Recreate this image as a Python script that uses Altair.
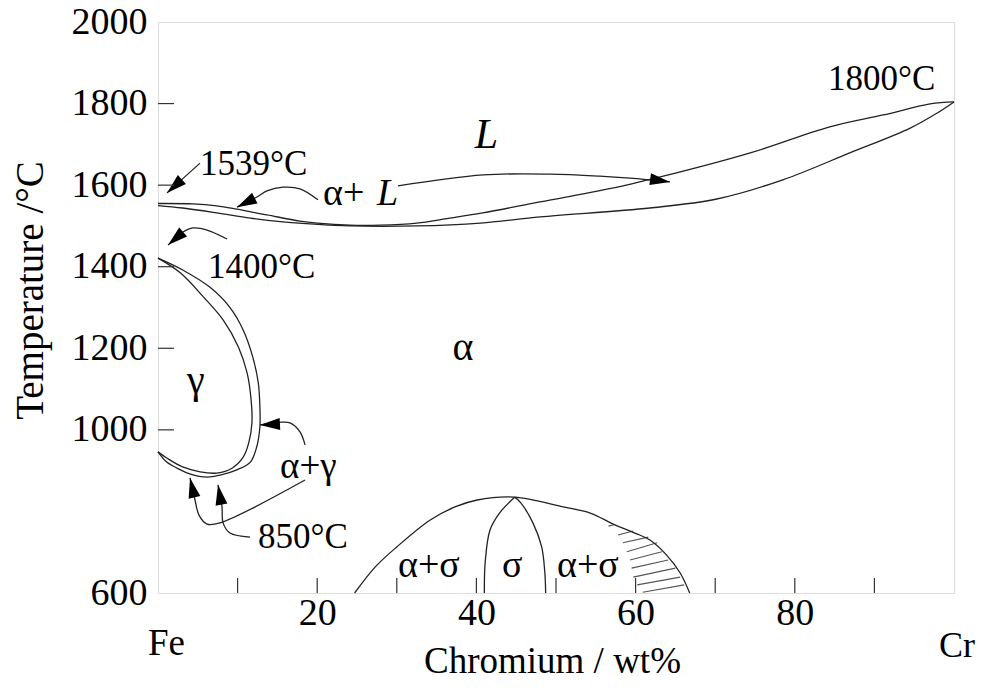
import altair as alt
import pandas as pd

FONT = "Liberation Serif"
INK = "#222222"

# ---------------- axis values ----------------
x_label_values = [20, 40, 60, 80]
x_tick_values = [10, 20, 30, 40, 50, 60, 70, 80, 90]
y_label_values = [600, 1000, 1200, 1400, 1600, 1800, 2000]
y_tick_values = [1000, 1200, 1400, 1600, 1800]

# ---------------- phase boundaries (wt% Cr, deg C) ----------------
liquidus_cr = [0, 4.4, 7.4, 9.9, 13.7, 17.8, 20.0, 24.1, 27.9, 32.5, 36.3, 40.8, 48.0, 57.7, 60.9, 63.1, 74.4, 84.4, 91.1, 97.0, 100]
liquidus_t = [1555, 1554, 1549, 1541, 1527, 1512, 1507, 1502, 1502, 1507, 1518, 1532, 1559, 1595, 1610, 1620, 1679, 1743, 1772, 1799, 1804]

solidus_cr = [0, 3.1, 7.4, 11.6, 15.7, 19.1, 24.1, 32.5, 40.5, 48.0, 61.8, 70.2, 78.5, 86.9, 94.5, 97.9, 100]
solidus_t = [1550, 1544, 1532, 1519, 1510, 1505, 1500, 1500, 1507, 1522, 1544, 1566, 1613, 1679, 1740, 1777, 1804]

gamma_outer_cr = [0, 3.1, 6.5, 9.0, 10.7, 11.9, 12.6, 12.8, 12.8, 12.4, 11.6, 9.9, 7.8, 6.2, 4.0, 2.4, 1.1, 0]
gamma_outer_t = [1421, 1392, 1350, 1301, 1245, 1179, 1115, 1056, 1007, 958, 921, 902, 889, 884, 892, 906, 921, 946]

gamma_inner_cr = [0, 2.8, 5.7, 8.2, 10.1, 11.2, 11.7, 11.8, 11.4, 10.7, 9.3, 7.4, 5.3, 3.1, 1.1, 0]
gamma_inner_t = [1421, 1385, 1326, 1269, 1203, 1139, 1073, 1017, 968, 933, 906, 894, 897, 909, 931, 946]

sigma_dome_cr = [24.7, 27.3, 30.0, 34.2, 37.3, 40.1, 44.8, 50.9, 54.3, 57.2, 59.9, 61.8, 63.9, 65.6, 66.8]
sigma_dome_t = [600, 664, 713, 779, 811, 828, 835, 811, 796, 769, 747, 730, 693, 649, 600]

sigma_left_cr = [44.8, 42.9, 41.7, 41.1, 41.0]
sigma_left_t = [835, 796, 754, 674, 600]

sigma_right_cr = [44.8, 45.5, 47.1, 48.2, 48.6, 48.7]
sigma_right_t = [835, 823, 772, 713, 649, 600]

# ---------------- annotation arrows (stems end at the tip) ----------------
arrow_1539_cr = [5.28, 1.13]
arrow_1539_t = [1654, 1581]
arrow_1400_cr = [8.67, 6.16, 4.40, 3.14, 1.26]
arrow_1400_t = [1468, 1490, 1495, 1485, 1453]
arrow_al_left_cr = [20.1, 17.84, 15.70, 13.69, 12.44, 9.92]
arrow_al_left_t = [1564, 1591, 1595, 1586, 1571, 1546]
arrow_al_right_cr = [30.15, 40.83, 49.25, 55.53, 59.30, 64.32]
arrow_al_right_t = [1598, 1625, 1627, 1622, 1617, 1608]
arrow_ag_cr = [18.47, 17.84, 16.58, 15.58, 12.81]
arrow_ag_t = [963, 995, 1017, 1019, 1012]
arrow_850a_cr = [18.47, 7.79, 6.16, 5.15, 4.65, 4.02]
arrow_850a_t = [877, 772, 769, 791, 828, 882]
arrow_850b_cr = [11.56, 9.05, 8.17, 8.04, 7.54]
arrow_850b_t = [737, 747, 772, 811, 865]

# arrow head direction (degrees clockwise from "up")
head_angle = {"a1539": 228, "a1400": 229, "al_left": 243, "al_right": 98,
              "ag": 267, "a850a": 347, "a850b": 350}

# ---------------- hatching in the alpha+sigma field ----------------
hatch_cr1 = [56.6, 57.8, 58.4, 58.9, 59.3, 59.5, 59.7, 60.2, 60.9]
hatch_t1 = [764, 742, 723, 701, 681, 661, 639, 620, 602]
hatch_cr2 = [57.4, 59.7, 61.6, 62.7, 63.3, 64.1, 65.0, 65.6, 66.1]
hatch_t2 = [768, 752, 737, 723, 701, 681, 661, 639, 620]

# ---------------- labels ----------------
label_text = ["1539°C", "1400°C", "α+", "α", "γ", "α+γ", "850°C", "α+σ", "σ", "α+σ", "1800°C", "Fe", "Cr"]
label_cr = [5.28, 6.28, 20.73, 37.0, 3.64, 15.33, 12.56, 30.15, 43.22, 50.13, 84.17, -1.26, 98.1]
label_t = [1625, 1372, 1551, 1171, 1090, 882, 710, 639, 639, 639, 1833, 448, 443]
label_size = [35, 35, 38, 40, 40, 37, 35, 38, 38, 38, 35, 37, 36]

italic_text = ["L", "L"]
italic_cr = [27.51, 39.8]
italic_t = [1551, 1691]
italic_size = [38, 42]

# ---------------- tables ----------------
curves = {
    "liquidus": (liquidus_cr, liquidus_t),
    "solidus": (solidus_cr, solidus_t),
    "gamma_outer": (gamma_outer_cr, gamma_outer_t),
    "gamma_inner": (gamma_inner_cr, gamma_inner_t),
    "sigma_dome": (sigma_dome_cr, sigma_dome_t),
    "sigma_left": (sigma_left_cr, sigma_left_t),
    "sigma_right": (sigma_right_cr, sigma_right_t),
}
arrows = {
    "a1539": (arrow_1539_cr, arrow_1539_t),
    "a1400": (arrow_1400_cr, arrow_1400_t),
    "al_left": (arrow_al_left_cr, arrow_al_left_t),
    "al_right": (arrow_al_right_cr, arrow_al_right_t),
    "ag": (arrow_ag_cr, arrow_ag_t),
    "a850a": (arrow_850a_cr, arrow_850a_t),
    "a850b": (arrow_850b_cr, arrow_850b_t),
}

rows = []
for name, (xs, ts) in list(curves.items()) + list(arrows.items()):
    for i, (x, t) in enumerate(zip(xs, ts)):
        rows.append({"curve": name, "i": i, "cr": x, "t": t})
lines_df = pd.DataFrame(rows)

heads_df = pd.DataFrame([
    {"cr": xs[-1], "t": ts[-1], "angle": head_angle[name]}
    for name, (xs, ts) in arrows.items()
])

hatch_df = pd.DataFrame({"cr": hatch_cr1, "t": hatch_t1, "cr2": hatch_cr2, "t2": hatch_t2})
labels_df = pd.DataFrame({"cr": label_cr, "t": label_t, "text": label_text, "size": label_size})
italic_df = pd.DataFrame({"cr": italic_cr, "t": italic_t, "text": italic_text, "size": italic_size})
xticks_df = pd.DataFrame({"cr": x_tick_values})
yticks_df = pd.DataFrame({"t": y_tick_values})

# ---------------- scales / axes ----------------
W, H = 796, 571
xscale = alt.Scale(domain=[0, 100], nice=False, zero=False)
yscale = alt.Scale(domain=[600, 2000], nice=False, zero=False)

x_axis = alt.Axis(values=x_label_values, format="d", ticks=False, domain=False, grid=False,
                  labelFont=FONT, labelFontSize=38, labelColor="black",
                  labelBaseline="alphabetic", labelPadding=31,
                  title="Chromium / wt%", titleFont=FONT, titleFontSize=37,
                  titleFontWeight="normal", titleColor="black",
                  titleX=394, titleY=79, titleBaseline="alphabetic", titleAlign="center")
y_axis = alt.Axis(values=y_label_values, format="d", ticks=False, domain=False, grid=False,
                  labelFont=FONT, labelFontSize=38, labelColor="black",
                  labelPadding=11, labelBaseline="middle",
                  title="Temperature /°C", titleFont=FONT, titleFontSize=39,
                  titleFontWeight="normal", titleColor="black",
                  titleAngle=270, titleX=-128, titleY=268,
                  titleBaseline="middle", titleAlign="center")

X = alt.X("cr:Q", scale=xscale, axis=x_axis)
Y = alt.Y("t:Q", scale=yscale, axis=y_axis)

lines = alt.Chart(lines_df).mark_line(
    color=INK, strokeWidth=1.3, interpolate="catmull-rom"
).encode(x=X, y=Y, detail="curve:N", order="i:Q")

heads = alt.Chart(heads_df).mark_point(
    shape="M0,0L0.6,2L-0.6,2Z", filled=True, color="black", size=400,
    opacity=1, strokeWidth=0
).encode(x=X, y=Y, angle=alt.Angle("angle:Q", scale=None))

hatch = alt.Chart(hatch_df).mark_rule(color="#555555", strokeWidth=1.1).encode(
    x=X, y=Y, x2="cr2:Q", y2="t2:Q")

xticks = alt.Chart(xticks_df).mark_rule(color="#333333", strokeWidth=1.2).encode(
    x=X, y=alt.value(H), y2=alt.value(H - 15))
yticks = alt.Chart(yticks_df).mark_rule(color="#333333", strokeWidth=1.2).encode(
    y=Y, x=alt.value(0), x2=alt.value(16))

labels = alt.Chart(labels_df).mark_text(
    font=FONT, align="left", baseline="alphabetic", color="black"
).encode(x=X, y=Y, text="text:N", size=alt.Size("size:Q", scale=None))

italic = alt.Chart(italic_df).mark_text(
    font=FONT, fontStyle="italic", align="left", baseline="alphabetic", color="black"
).encode(x=X, y=Y, text="text:N", size=alt.Size("size:Q", scale=None))

chart = alt.layer(hatch, lines, heads, xticks, yticks, labels, italic).properties(
    width=W, height=H,
    autosize=alt.AutoSizeParams(type="none"),
    padding={"left": 150, "top": 14, "right": 22, "bottom": 87},
).configure_view(stroke="#333333", strokeWidth=1.2).configure(background="white")

chart.save("out.html", embed_options={"renderer": "svg", "actions": False})
